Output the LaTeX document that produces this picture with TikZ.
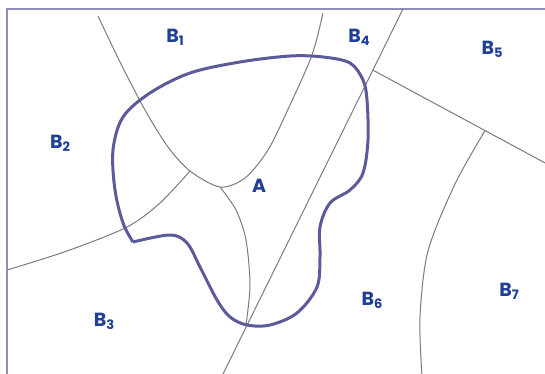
\documentclass[tikz,border=0pt]{standalone}
\usepackage{fontspec}
\setmainfont{Poppins}
\definecolor{lblblue}{HTML}{1F3F99}
\definecolor{regionA}{HTML}{5B5B9A}
\definecolor{thin}{HTML}{7A7A86}
\definecolor{frame}{HTML}{8E8EBE}
\newcommand\subdig[1]{\raisebox{-3pt}{\fontsize{13}{13}\selectfont #1}}
\begin{document}
\begin{tikzpicture}[x=1pt,y=-1pt,
  lbl/.style={text=lblblue,font=\fontsize{19}{19}\selectfont\bfseries,inner sep=0pt},
  thinline/.style={draw=thin,line width=1pt},
  outline/.style={draw=regionA,line width=3pt,line join=round}]
\useasboundingbox (0,0) rectangle (545,374);
\clip (0,0) rectangle (545,374);
% frame
\draw[frame,line width=1.6pt] (7,380) -- (7,9) -- (550,9);
% boundaries
\coordinate (sTop) at (403,9);
\coordinate (sBot) at (222,376);
\coordinate (j45) at (372.7,70);
\coordinate (e45) at (560,171);
\draw[thinline] plot[smooth] coordinates {(98,16) (120,62) (145,110) (168,147) (190,171) (220,187) (245,178) (268,150) (290,105) (312,55) (323,13)};
\draw[thinline] plot[smooth] coordinates {(7,270) (67,251) (127,227) (160,203) (190,171)};
\draw[thinline] plot[smooth] coordinates {(220,187) (236,210) (246,240) (250,285) (246,325)};
\draw[thinline] (sTop) -- (sBot);
\draw[thinline] (j45) -- (e45);
\draw[thinline] plot[smooth] coordinates {(485,130.6) (455,184) (428,251) (420,317) (422,376)};
% region A
\draw[outline] plot[smooth,tension=0.55] coordinates {(133,242) (170,235) (187,243) (200,267) (217,300) (230,317) (247,325) (270,325) (297,313) (317,287) (320,257) (320,227) (330,203) (350,190) (363,173) (368,140) (367,100) (363,80) (350,63) (323,57) (290,56) (240,62) (190,73) (150,93) (123,117) (113,150) (115,190) (123,223) (133,242)};
% labels
\node[lbl] (b1) at (175,37) {B\subdig{1}};
\node[lbl] (b2) at (60,143) {B\subdig{2}};
\node[lbl] (b3) at (104,321) {B\subdig{3}};
\node[lbl] (b4) at (359,37) {B\subdig{4}};
\node[lbl] (b5) at (492,49) {B\subdig{5}};
\node[lbl] (b6) at (372,300) {B\subdig{6}};
\node[lbl] (b7) at (509,291) {B\subdig{7}};
\node[lbl] (a) at (259,186) {A};
\end{tikzpicture}
\end{document}
